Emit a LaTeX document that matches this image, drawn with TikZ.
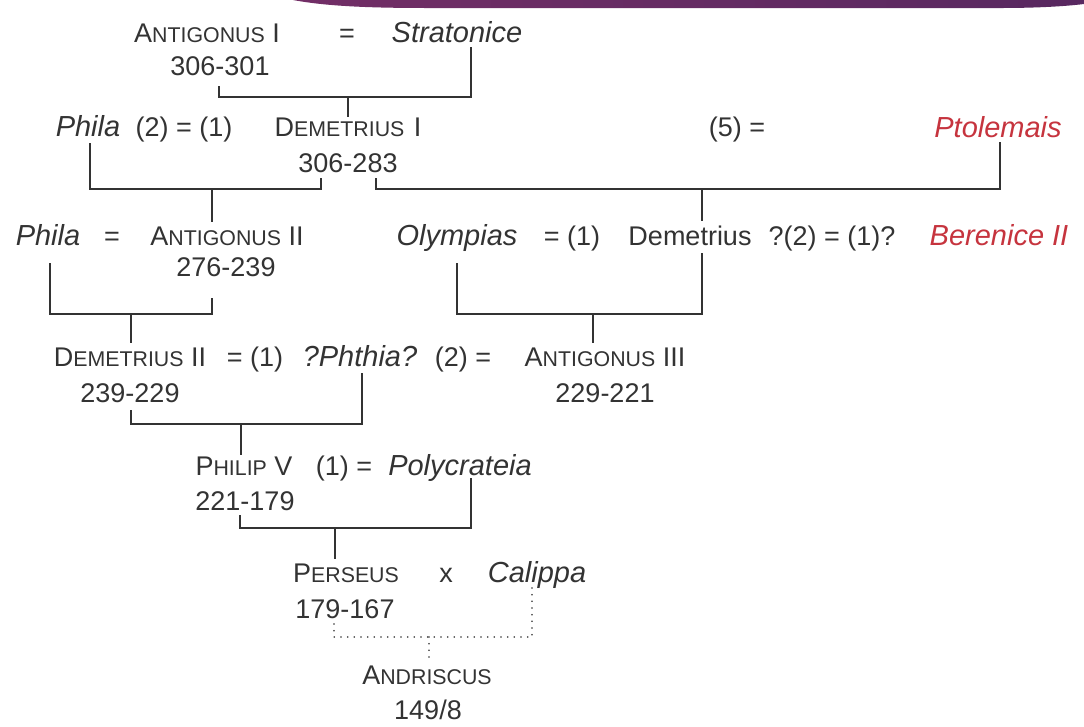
\documentclass[tikz,border=0pt]{standalone}
\usepackage{fontspec}
\setmainfont{Liberation Sans}
\usepackage{tikz}
\definecolor{ink}{RGB}{51,51,51}
\definecolor{redq}{RGB}{198,52,62}
\definecolor{bandl}{RGB}{114,46,102}
\definecolor{bandr}{RGB}{88,40,96}
\newcommand\sccap[1]{{\fontsize{16}{16}\selectfont #1}}
\tikzset{every picture/.style={line width=0.75pt}}
\tikzset{
roy/.style={inner sep=0pt, anchor=base, text=ink, font=\fontsize{20.25}{24}\selectfont},
wife/.style={roy, font=\fontsize{21.75}{24}\selectfont\itshape},
foreign/.style={wife, text=redq},
kin/.style={draw=ink, line width=1.5pt},
kinq/.style={draw=ink, line width=1.3pt, line cap=round, dash pattern=on 0pt off 5pt}}

\begin{document}
\begin{tikzpicture}[x=0.75pt,y=0.75pt,yscale=-1,xscale=1]
\fill[white] (0,0) rectangle (1084,726);
\useasboundingbox (0,0) rectangle (1084,726);

%Shape: top band
\shade[left color=bandl, right color=bandr] (293,0) .. controls (330,7) and (380,8) .. (430,8) -- (1000,8) .. controls (1040,8) and (1068,6) .. (1084,4) -- (1084,0) -- cycle ;

%Text: row 1
\node[roy] (ant1) at (207,42) {A\sccap{NTIGONUS} I};
\node[roy] (eq1) at (347,42) {=};
\node[wife] (strat) at (457,42) {Stratonice};
\node[roy] (ant1yr) at (220,75) {306-301};

%Text: row 2
\node[wife] (phila1) at (88,136) {Phila};
\node[roy] (mar2) at (184,136) {(2) = (1)};
\node[roy] (dem1) at (348,136) {D\sccap{EMETRIUS}\hspace{7pt}I};
\node[roy] (dem1yr) at (348,172) {306-283};
\node[roy] (five) at (737,136) {(5) =};
\node[foreign] (ptol) at (998,137) {Ptolemais};

%Text: row 3
\node[wife] (phila2) at (48,245) {Phila};
\node[roy] (eq3) at (112,245) {=};
\node[roy] (ant2) at (227,245) {A\sccap{NTIGONUS} II};
\node[roy] (ant2yr) at (226,276) {276-239};
\node[wife] (olym) at (457,245) {Olympias};
\node[roy] (mar3a) at (572,245) {= (1)};
\node[roy] (dem) at (690,245) {Demetrius};
\node[roy] (mar3b) at (832,245) {?(2) = (1)?};
\node[foreign] (beren) at (999,245) {Berenice II};

%Text: row 4
\node[roy] (dem2) at (130,366) {D\sccap{EMETRIUS} II};
\node[roy] (mar4a) at (255,366) {= (1)};
\node[wife] (phth) at (360,366) {?Phthia?};
\node[roy] (mar4b) at (463,366) {(2) =};
\node[roy] (ant3) at (605,366) {A\sccap{NTIGONUS} III};
\node[roy] (dem2yr) at (130,402) {239-229};
\node[roy] (ant3yr) at (605,402) {229-221};

%Text: row 5
\node[roy] (phil5) at (244,475) {P\sccap{HILIP} V};
\node[roy] (mar5) at (344,475) {(1) =};
\node[wife] (poly) at (460,475) {Polycrateia};
\node[roy] (phil5yr) at (245,510) {221-179};

%Text: row 6
\node[roy] (pers) at (346,582) {P\sccap{ERSEUS}};
\node[roy] (xx) at (446,582) {x};
\node[wife] (cal) at (537,582) {Calippa};
\node[roy] (persyr) at (345,618) {179-167};

%Text: row 7
\node[roy] (andr) at (427,684) {A\sccap{NDRISCUS}};
\node[roy] (andryr) at (428,719) {149/8};

%Bracket ends
\coordinate (c1a) at (219,86); \coordinate (c1b) at (471,47); \coordinate (m1) at (348,97);
\coordinate (c2a) at (90,143); \coordinate (c2b) at (321,178); \coordinate (m2a) at (212,189);
\coordinate (c2c) at (376,178); \coordinate (c2d) at (1000,142); \coordinate (m2b) at (702,189);
\coordinate (c3a) at (50,263); \coordinate (c3b) at (212,298); \coordinate (m3a) at (131,314);
\coordinate (c3c) at (457,263); \coordinate (c3d) at (702,253); \coordinate (m3b) at (593,314);
\coordinate (c4a) at (131,410); \coordinate (c4b) at (362,373); \coordinate (m4) at (241,424);
\coordinate (c5a) at (240,515); \coordinate (c5b) at (471,478); \coordinate (m5) at (335,528);
\coordinate (c6a) at (334,624); \coordinate (c6b) at (532,587); \coordinate (m6) at (429,637);

%Bracket: Antigonus I = Stratonice
\draw[kin] (c1a) |- (m1) -| (c1b) ;
\draw[kin] (m1) -- (m1 |- dem1.north) ;
%Bracket: Phila = Demetrius I
\draw[kin] (c2a) |- (m2a) -| (c2b) ;
\draw[kin] (m2a) -- ([yshift=-3]m2a |- ant2.north) ;
%Bracket: Demetrius I = Ptolemais
\draw[kin] (c2c) |- (m2b) -| (c2d) ;
\draw[kin] (m2b) -- ([yshift=-3]m2b |- dem.north) ;
%Bracket: Phila = Antigonus II
\draw[kin] (c3a) |- (m3a) -| (c3b) ;
\draw[kin] (m3a) -- ([yshift=-3]m3a |- dem2.north) ;
%Bracket: Olympias = Demetrius
\draw[kin] (c3c) |- (m3b) -| (c3d) ;
\draw[kin] (m3b) -- ([yshift=-3]m3b |- ant3.north) ;
%Bracket: Demetrius II = Phthia
\draw[kin] (c4a) |- (m4) -| (c4b) ;
\draw[kin] (m4) -- ([yshift=-1]m4 |- phil5.north) ;
%Bracket: Philip V = Polycrateia
\draw[kin] (c5a) |- (m5) -| (c5b) ;
\draw[kin] (m5) -- ([yshift=-3]m5 |- pers.north) ;
%Bracket: Perseus x Calippa
\draw[kinq] (c6a) |- (m6) -| (c6b) ;
\draw[kinq] (m6) -- ([yshift=-4]m6 |- andr.north) ;

\end{tikzpicture}
\end{document}
